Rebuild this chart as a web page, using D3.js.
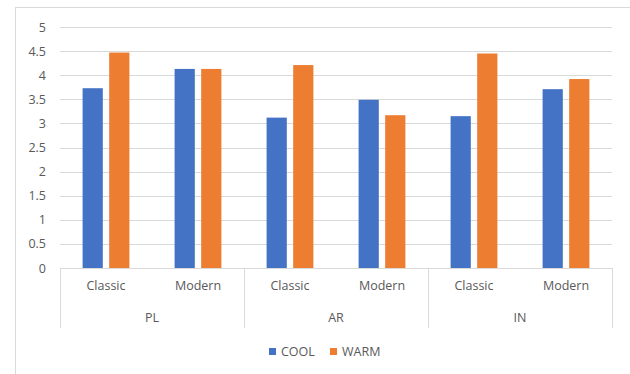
<!DOCTYPE html>
<html>
<head>
<meta charset="utf-8">
<script src="https://cdn.jsdelivr.net/npm/d3@7"></script>
<style>
  html, body { margin: 0; padding: 0; background: #fff; }
  svg { display: block; }
  text { font-family: "Open Sans", "Liberation Sans", sans-serif; fill: #595959; }
</style>
</head>
<body>
<svg id="chart" width="630" height="374"></svg>
<script>
const groups = ["PL", "AR", "IN"];
const styles = ["Classic", "Modern"];
const seriesNames = ["COOL", "WARM"];
const coolValues = [3.73, 4.13, 3.12, 3.49, 3.15, 3.71];
const warmValues = [4.47, 4.13, 4.21, 3.17, 4.45, 3.92];
const yTicks = [0, 0.5, 1, 1.5, 2, 2.5, 3, 3.5, 4, 4.5, 5];
const colors = ["#4472C4", "#ED7D31"];

const categories = [];
groups.forEach(g => styles.forEach(s => categories.push({ group: g, style: s, key: g + "-" + s })));
const seriesValues = [coolValues, warmValues];

const svg = d3.select("#chart");
const plotLeft = 60, plotRight = 612, plotTop = 27, plotBottom = 268;
const fs = "12.5px";

// chart border
svg.append("rect").attr("x", 15.5).attr("y", 7.5).attr("width", 640).attr("height", 400)
  .attr("fill", "none").attr("stroke", "#d9d9d9").attr("stroke-width", 1);

const x = d3.scaleBand().domain(categories.map(d => d.key)).range([plotLeft, plotRight]).paddingInner(0).paddingOuter(0);
const inner = d3.scaleBand().domain(seriesNames).range([0, x.bandwidth()]).paddingInner(0.24).paddingOuter(0.85);
const y = d3.scaleLinear().domain([0, 5]).range([plotBottom, plotTop]);

// gridlines
svg.append("g").selectAll("line").data(yTicks.filter(t => t > 0)).join("line")
  .attr("x1", plotLeft).attr("x2", plotRight)
  .attr("y1", d => Math.round(y(d)) + 0.5).attr("y2", d => Math.round(y(d)) + 0.5)
  .attr("stroke", "#d9d9d9").attr("stroke-width", 1);

// y axis labels
const yAxis = d3.axisLeft(y).tickValues(yTicks).tickSize(0).tickPadding(14).tickFormat(d => String(d));
const yg = svg.append("g").attr("transform", `translate(${plotLeft},0)`).call(yAxis);
yg.select(".domain").remove();
yg.selectAll("text").style("font-size", fs).attr("fill", "#595959").attr("font-family", null);

// bars
seriesNames.forEach((s, si) => {
  svg.append("g").selectAll("rect").data(categories).join("rect")
    .attr("x", d => x(d.key) + inner(s))
    .attr("width", inner.bandwidth())
    .attr("y", (d, i) => y(seriesValues[si][i]))
    .attr("height", (d, i) => y(0) - y(seriesValues[si][i]))
    .attr("fill", colors[si]);
});

// category axis
svg.append("line").attr("x1", plotLeft).attr("x2", plotRight).attr("y1", plotBottom + 0.5).attr("y2", plotBottom + 0.5)
  .attr("stroke", "#d9d9d9");
const xAxis = d3.axisBottom(x).tickSize(0).tickPadding(0).tickFormat(k => k.split("-")[1]);
const xg = svg.append("g").attr("transform", `translate(0,${plotBottom + 13})`).call(xAxis);
xg.select(".domain").remove();
xg.selectAll("text").style("font-size", fs).attr("fill", "#595959").attr("font-family", null);

// group separators
const groupBounds = [plotLeft];
groups.forEach(g => groupBounds.push(x(g + "-" + styles[styles.length - 1]) + x.bandwidth()));
svg.append("g").selectAll("line").data(groupBounds).join("line")
  .attr("x1", d => Math.round(d) + 0.5).attr("x2", d => Math.round(d) + 0.5)
  .attr("y1", plotBottom).attr("y2", 328)
  .attr("stroke", "#d9d9d9");

svg.append("g").selectAll("text").data(groups).join("text")
  .attr("x", g => (x(g + "-" + styles[0]) + x(g + "-" + styles[1]) + x.bandwidth()) / 2)
  .attr("y", 318).attr("dy", "0.35em").attr("text-anchor", "middle")
  .style("font-size", fs).text(g => g);

// legend
const legendPos = [269, 330];
const lg = svg.append("g");
seriesNames.forEach((s, i) => {
  lg.append("rect").attr("x", legendPos[i]).attr("y", 348).attr("width", 7).attr("height", 7).attr("fill", colors[i]);
  lg.append("text").attr("x", legendPos[i] + 12).attr("y", 351.5).attr("dy", "0.35em")
    .style("font-size", fs).text(s);
});
</script>
</body>
</html>
